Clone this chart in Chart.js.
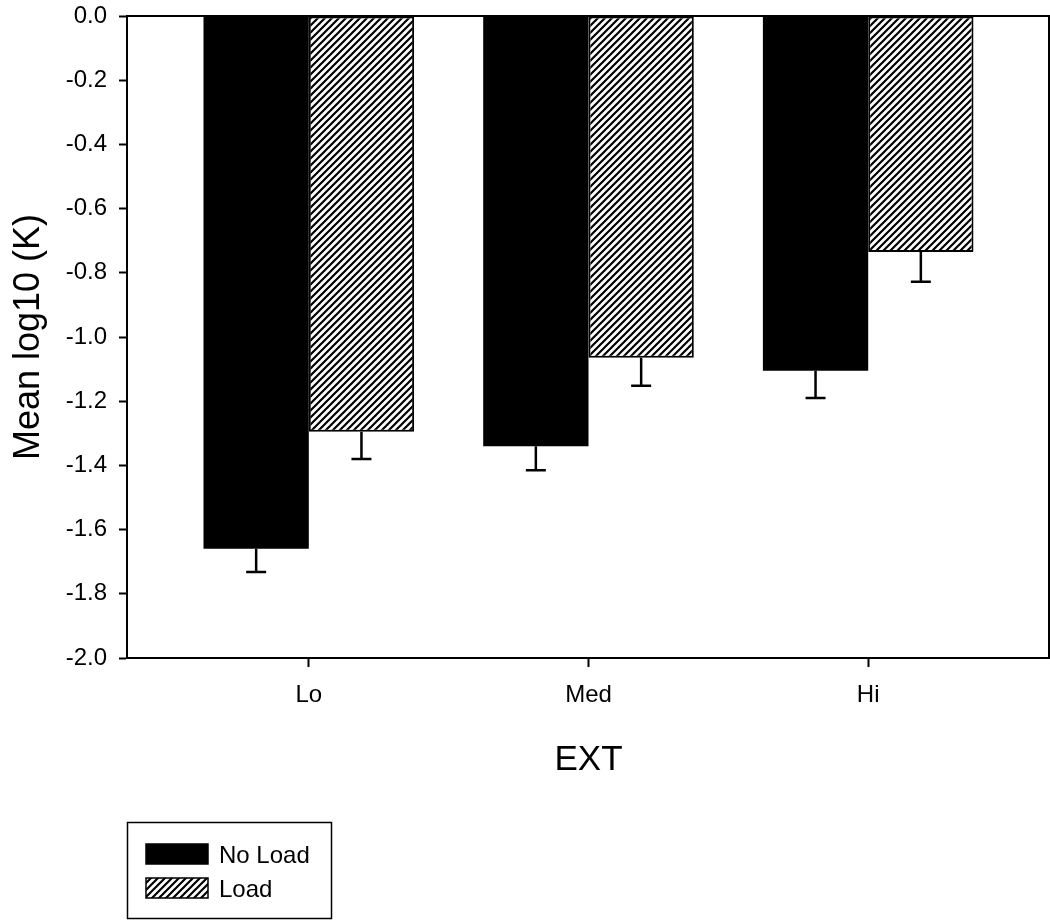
<!DOCTYPE html>
<html>
<head>
<meta charset="utf-8">
<script src="https://cdn.jsdelivr.net/npm/chart.js@4/dist/chart.umd.min.js"></script>
<style>
html,body{margin:0;padding:0;background:#fff;}
#wrap{width:1050px;height:924px;}
</style>
</head>
<body>
<div id="wrap"><canvas id="extChart" width="1050" height="924"></canvas></div>
<script>
// values
const categories = ["Lo", "Med", "Hi"];
const noLoad = [-1.66, -1.34, -1.105];
const noLoadErr = [0.072, 0.075, 0.085];
const load = [-1.295, -1.065, -0.735];
const loadErr = [0.085, 0.087, 0.093];
const yMin = -2.0;
const yMax = 0.0;
const yStep = 0.2;

const FONT = "'Liberation Sans', Arial, sans-serif";

// diagonal hatch for the "Load" bars
function hatch(){
let s = 7;
let c = document.createElement("canvas");
c.width = s; c.height = s;
let g = c.getContext("2d");
g.fillStyle = "#fff";
g.fillRect(0,0,s,s);
g.strokeStyle = "#000";
g.lineWidth = 2.2;
g.beginPath();
g.moveTo(0,s); g.lineTo(s,0);
g.moveTo(-1,1); g.lineTo(1,-1);
g.moveTo(s-1,s+1); g.lineTo(s+1,s-1);
g.stroke();
return g.createPattern(c,"repeat");
}
const hatchFill = hatch();

function points(vals){
return vals.map((v,i)=>({x:i+1, y:v}));
}

// one-sided error bars, drawn below each bar
const errorBars = {
id: "errorBars",
afterDatasetsDraw(chart){
const ctx = chart.ctx;
const y = chart.scales.y;
chart.data.datasets.forEach((ds,di)=>{
const meta = chart.getDatasetMeta(di);
meta.data.forEach((bar,i)=>{
let v = ds.data[i].y;
let y0 = y.getPixelForValue(v);
let y1 = y.getPixelForValue(v - ds.err[i]);
ctx.save();
ctx.strokeStyle = "#000";
ctx.lineWidth = 2.5;
ctx.beginPath();
ctx.moveTo(bar.x, y0);
ctx.lineTo(bar.x, y1);
ctx.moveTo(bar.x - 10, y1);
ctx.lineTo(bar.x + 10, y1);
ctx.stroke();
ctx.restore();
});
});
}
};

// frame round the plot + boxed legend below
const frameLegend = {
id: "frameLegend",
afterDraw(chart){
const ctx = chart.ctx;
const a = chart.chartArea;
ctx.save();
ctx.strokeStyle = "#000";
ctx.lineWidth = 2;
ctx.strokeRect(a.left, a.top, a.right - a.left - 1, a.bottom - a.top);

let bx = a.left, by = 822;
ctx.lineWidth = 1.5;
ctx.strokeRect(bx + 0.5, by + 0.5, 204, 96);
ctx.font = "24px " + FONT;
ctx.textBaseline = "middle";
chart.data.datasets.forEach((ds,i)=>{
let sy = by + 22 + i*34;
ctx.fillStyle = ds.backgroundColor;
ctx.fillRect(bx + 19, sy, 62, 20);
ctx.lineWidth = 1.5;
ctx.strokeRect(bx + 19, sy, 62, 20);
ctx.fillStyle = "#000";
ctx.fillText(ds.label, bx + 92, sy + 12);
});
ctx.restore();
}
};

new Chart(document.getElementById("extChart"), {
type: "bar",
data: {
datasets: [
{
label: "No Load",
data: points(noLoad),
err: noLoadErr,
backgroundColor: "#000",
borderColor: "#000",
borderWidth: 0
},
{
label: "Load",
data: points(load),
err: loadErr,
backgroundColor: hatchFill,
borderColor: "#000",
borderWidth: 2,
borderSkipped: false
}
]
},
options: {
responsive: false,
animation: false,
devicePixelRatio: 1,
barPercentage: 1,
categoryPercentage: 0.753,
layout: { padding: { top: 16, right: 0, bottom: 130, left: 0 } },
plugins: {
legend: { display: false },
tooltip: { enabled: false }
},
scales: {
x: {
type: "linear",
min: 0.35,
max: 3.65,
offset: false,
afterBuildTicks(scale){
scale.ticks = categories.map((c,i)=>({value:i+1}));
},
afterFit(scale){ scale.height = 136; },
ticks: {
color: "#000",
font: { family: FONT, size: 24 },
padding: 14,
callback: v => categories[v-1]
},
grid: {
drawOnChartArea: false,
offset: false,
tickLength: 9,
tickWidth: 2,
tickColor: "#000"
},
border: { color: "#000", width: 2 },
title: {
display: true,
text: "EXT",
color: "#000",
font: { family: FONT, size: 35 },
padding: { top: 0, bottom: 13 }
}
},
y: {
min: yMin,
max: yMax,
afterFit(scale){
scale.width = 127;
scale.paddingTop = 10;
scale.paddingBottom = 10;
},
ticks: {
stepSize: yStep,
color: "#000",
font: { family: FONT, size: 24 },
padding: 12,
callback: v => v.toFixed(1)
},
grid: {
drawOnChartArea: false,
tickLength: 8,
tickWidth: 2,
tickColor: "#000"
},
border: { color: "#000", width: 2 },
title: {
display: true,
text: "Mean log10 (K)",
color: "#000",
font: { family: FONT, size: 36 },
padding: { top: 7, bottom: 0 }
}
}
}
},
plugins: [errorBars, frameLegend]
});
</script>
</body>
</html>
